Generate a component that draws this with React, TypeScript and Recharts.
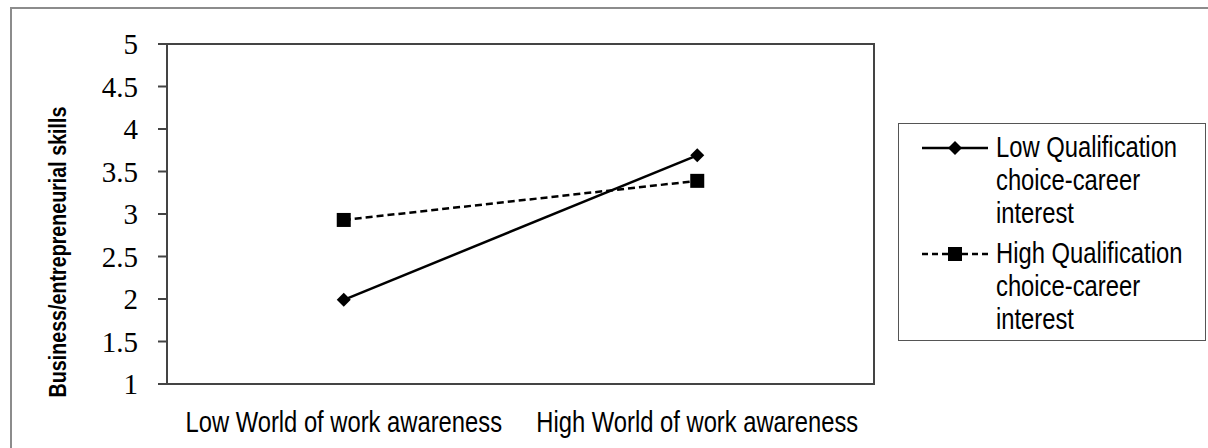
import { LineChart, Line, XAxis, YAxis, ReferenceArea, Label } from 'recharts';

const categories = ['Low World of work awareness', 'High World of work awareness'];
const lowQualification = [1.99, 3.69];
const highQualification = [2.93, 3.39];
const yTicks = [1, 1.5, 2, 2.5, 3, 3.5, 4, 4.5, 5];
const edgeTicks = [0, 1, 2];
const lowLegend = ['Low Qualification', 'choice-career', 'interest'];
const highLegend = ['High Qualification', 'choice-career', 'interest'];

const data = categories.map((name, i) => ({
  name,
  low: lowQualification[i],
  high: highQualification[i],
}));

// no narrow sans installed, so squeeze the regular one
const SANS = "'Liberation Sans', Arial, sans-serif";
const SERIF = "'Liberation Serif', 'Times New Roman', serif";
const SQUEEZE = 0.82;

const Diamond = ({ cx, cy }: any) => {
  if (cx == null || cy == null) return null;
  return <path d={`M${cx},${cy - 7}L${cx + 7},${cy}L${cx},${cy + 7}L${cx - 7},${cy}Z`} fill="#000" />;
};

const Square = ({ cx, cy }: any) => {
  if (cx == null || cy == null) return null;
  return <rect x={cx - 7} y={cy - 7} width={14} height={14} fill="#000" />;
};

const YTick = ({ x, y, payload }: any) => (
  <text x={x} y={y} dy="0.35em" textAnchor="end" fontFamily={SERIF} fontSize={29} fill="#000">
    {payload.value}
  </text>
);

const XTick = ({ x, y, payload }: any) => (
  <text
    transform={`translate(${x} ${y + 40}) scale(${SQUEEZE} 1)`}
    textAnchor="middle"
    fontFamily={SANS}
    fontSize={29}
    fill="#000"
  >
    {payload.value}
  </text>
);

const LegendRow = ({ lines, dashed, marker }: { lines: string[]; dashed: boolean; marker: 'diamond' | 'square' }) => (
  <div style={{ display: 'flex', alignItems: 'flex-start' }}>
    <svg width={76} height={33} style={{ flex: 'none' }}>
      <line x1={2} y1={17} x2={68} y2={17} stroke="#000" strokeWidth={2.5} strokeDasharray={dashed ? '6 4' : undefined} />
      {marker === 'diamond' ? <Diamond cx={35} cy={17} /> : <Square cx={35} cy={17} />}
    </svg>
    <div
      style={{
        fontFamily: SANS,
        fontSize: 29,
        lineHeight: '33px',
        color: '#000',
        whiteSpace: 'nowrap',
        transform: `scaleX(${SQUEEZE})`,
        transformOrigin: 'left top',
      }}
    >
      {lines.map((t) => (
        <div key={t}>{t}</div>
      ))}
    </div>
  </div>
);

export default function App() {
  return (
    <div style={{ position: 'absolute', left: 0, top: 0, width: 1208, height: 448, overflow: 'hidden', background: '#fff' }}>
      <div style={{ position: 'absolute', left: 10, top: 7, width: 1220, height: 460, border: '2px solid #8c8c8c' }} />
      <div style={{ position: 'absolute', left: 0, top: 0 }}>
        <LineChart width={1208} height={448} data={data} margin={{ top: 44, right: 334, bottom: 14, left: 0 }}>
          <ReferenceArea y1={1} y2={5} fill="none" stroke="#444" strokeWidth={2} ifOverflow="visible" />
          <XAxis
            xAxisId="edge"
            type="number"
            domain={[0, 2]}
            ticks={edgeTicks}
            height={0}
            tickSize={9}
            tickLine={{ stroke: '#444', strokeWidth: 2 }}
            axisLine={false}
            tickFormatter={() => ''}
          />
          <XAxis
            dataKey="name"
            scale="band"
            height={50}
            tickLine={false}
            axisLine={false}
            tick={<XTick />}
            interval={0}
          />
          <YAxis
            width={167}
            domain={[1, 5]}
            ticks={yTicks}
            tickSize={9}
            tickMargin={20}
            tickLine={{ stroke: '#444', strokeWidth: 2 }}
            axisLine={false}
            tick={<YTick />}
          >
            <Label
              content={() => (
                <text
                  transform={`translate(58 252) rotate(-90) scale(${SQUEEZE} 1)`}
                  textAnchor="middle"
                  dominantBaseline="central"
                  fontFamily={SANS}
                  fontWeight="bold"
                  fontSize={24}
                  fill="#000"
                >
                  Business/entrepreneurial skills
                </text>
              )}
            />
          </YAxis>
          <Line
            dataKey="low"
            stroke="#000"
            strokeWidth={2.5}
            dot={<Diamond />}
            activeDot={false}
            isAnimationActive={false}
          />
          <Line
            dataKey="high"
            stroke="#000"
            strokeWidth={2.5}
            strokeDasharray="7 4"
            dot={<Square />}
            activeDot={false}
            isAnimationActive={false}
          />
        </LineChart>
      </div>
      <div
        style={{
          position: 'absolute',
          left: 898,
          top: 123,
          width: 308,
          height: 218,
          border: '1.5px solid #555',
          boxSizing: 'border-box',
          paddingTop: 7,
          paddingLeft: 21,
        }}
      >
        <LegendRow lines={lowLegend} dashed={false} marker="diamond" />
        <div style={{ height: 7 }} />
        <LegendRow lines={highLegend} dashed={true} marker="square" />
      </div>
    </div>
  );
}
